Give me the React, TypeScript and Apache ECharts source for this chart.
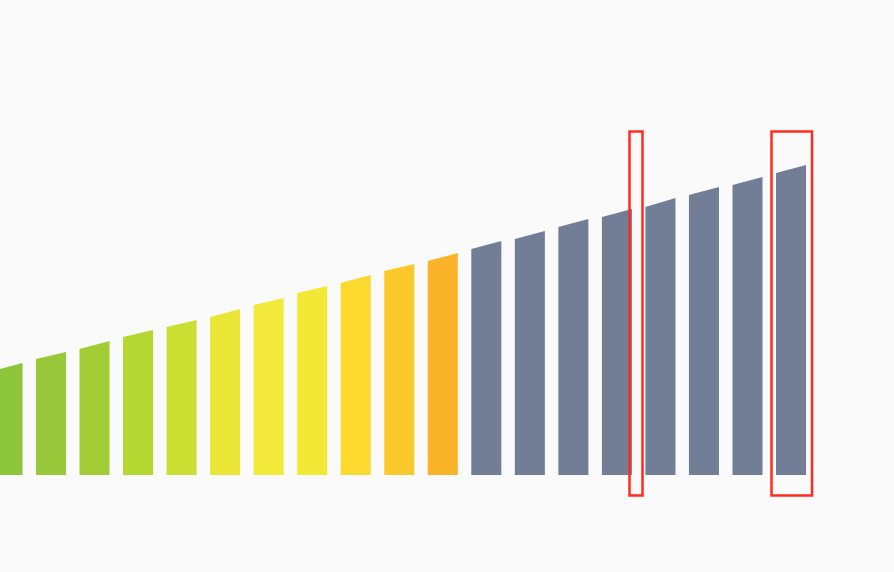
import React, { useEffect, useRef } from "react";
import * as echarts from "echarts";

// Categories (19 level bars, the first one partly outside the view)
const categories = [
  "1", "2", "3", "4", "5", "6", "7", "8", "9", "10",
  "11", "12", "13", "14", "15", "16", "17", "18", "19",
];

// Height of each bar's top at its left and right edge
const leftTop = [
  26, 29, 31.5, 34.5, 37, 39.5, 42.5, 45.5, 48, 51,
  53.5, 56.5, 59, 62, 64.5, 67, 70, 72.5, 75.5,
];
const rightTop = [
  28, 30.75, 33.5, 36.25, 38.75, 41.5, 44.25, 47.25, 50, 52.75,
  55.5, 58.5, 61, 64, 66.5, 69.25, 72, 74.5, 77.5,
];

// Bar colours
const barColors = [
  "#8cc43a", "#97c93a", "#a3cd36", "#b5d732", "#cbdf33", "#e9e638",
  "#f3e93a", "#f3e835", "#fbd92e", "#fcc92c", "#fbb42a",
  "#727d96", "#727d96", "#727d96", "#727d96", "#727d96", "#727d96",
  "#727d96", "#727d96",
];

const SHIFT = 15; // the chart's div starts 15px left of the page

export default function App() {
  const ref = useRef<HTMLDivElement>(null);

  useEffect(() => {
    if (!ref.current) return;
    const chart = echarts.init(ref.current, undefined, { renderer: "svg" });

    const data = categories.map((_, i) => [i, leftTop[i], rightTop[i]]);

    chart.setOption({
      animation: false,
      backgroundColor: "#fafafa",
      grid: { left: 0.7, right: 81.2, top: 75, bottom: 97 },
      xAxis: {
        type: "category",
        data: categories,
        show: false,
        boundaryGap: true,
      },
      yAxis: { type: "value", min: 0, max: 100, show: false },
      series: [
        {
          type: "custom",
          data,
          clip: false,
          renderItem: (params: any, api: any) => {
            const idx = api.value(0);
            const base = api.coord([idx, 0]);
            const l = api.coord([idx, api.value(1)]);
            const r = api.coord([idx, api.value(2)]);
            const band = api.size([1, 0])[0];
            const w = band * 0.69;
            const x0 = base[0] - w / 2;
            const x1 = base[0] + w / 2;
            return {
              type: "polygon",
              shape: {
                points: [
                  [x0, base[1]],
                  [x0, l[1]],
                  [x1, r[1]],
                  [x1, base[1]],
                ],
              },
              style: { fill: barColors[params.dataIndex] },
            };
          },
        },
      ],
      graphic: [
        {
          type: "rect",
          shape: { x: 629.5 + SHIFT, y: 131.5, width: 13, height: 364 },
          style: { fill: "none", stroke: "#ff2b1c", lineWidth: 2.5 },
          z: 100,
        },
        {
          type: "rect",
          shape: { x: 771.5 + SHIFT, y: 131.5, width: 40.5, height: 364 },
          style: { fill: "none", stroke: "#ff2b1c", lineWidth: 2.5 },
          z: 100,
        },
      ],
    });

    return () => chart.dispose();
  }, []);

  return (
    <div style={{ position: "fixed", left: 0, top: 0, width: 894, height: 572, overflow: "hidden", background: "#fafafa" }}>
      <div
        ref={ref}
        style={{ position: "absolute", left: -SHIFT, top: 0, width: 894 + SHIFT, height: 572 }}
      />
    </div>
  );
}
